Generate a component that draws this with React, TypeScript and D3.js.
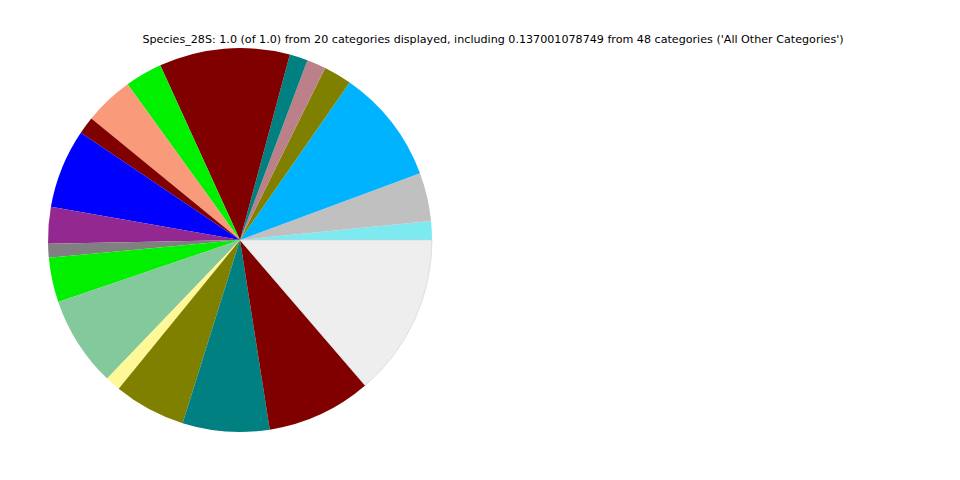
import React from "react";
import * as d3 from "d3";

const TITLE =
  "Species_28S: 1.0 (of 1.0) from 20 categories displayed, including 0.137001078749 from 48 categories ('All Other Categories')";

// slice fractions, in drawing order (counter-clockwise from 3 o'clock)
const values = [
  0.0158, 0.0408, 0.0967, 0.0236, 0.0161, 0.0153, 0.110, 0.0314, 0.0414, 0.0147,
  0.0667, 0.0308, 0.0117, 0.0375, 0.0761, 0.0128, 0.0606, 0.0731, 0.0883, 0.137001078749,
];

const colors = [
  "#7deaf2", "#c0c0c0", "#00b3ff", "#808000", "#bc8088", "#008080", "#800000", "#00f000",
  "#f99a7a", "#800000", "#0000ff", "#922890", "#808080", "#00f000", "#83c99b", "#fff899",
  "#808000", "#008080", "#800000", "#eeeeee",
];

export default function App() {
  const width = 960;
  const height = 480;
  const cx = 240;
  const cy = 240;
  const r = 192;

  const pie = d3
    .pie<number>()
    .sort(null)
    .value((d) => d)
    .startAngle(Math.PI / 2)
    .endAngle(Math.PI / 2 - 2 * Math.PI);
  const arcs = pie(values);
  const arcGen = d3.arc<d3.PieArcDatum<number>>().innerRadius(0).outerRadius(r);

  return (
    <svg
      width={width}
      height={height}
      style={{ position: "absolute", left: 0, top: 0, background: "#fff" }}
    >
      <g transform={`translate(${cx},${cy})`}>
        {arcs.map((a, i) => (
          <path
            key={i}
            d={arcGen(a) || ""}
            fill={colors[i]}
            stroke={i === values.length - 1 ? "#d0d0d0" : "none"}
            strokeWidth={i === values.length - 1 ? 0.6 : 0}
          />
        ))}
      </g>
      <text
        x={493}
        y={43}
        textAnchor="middle"
        fontFamily="DejaVu Sans"
        fontSize={11.13}
        fill="#000"
      >
        {TITLE}
      </text>
    </svg>
  );
}
